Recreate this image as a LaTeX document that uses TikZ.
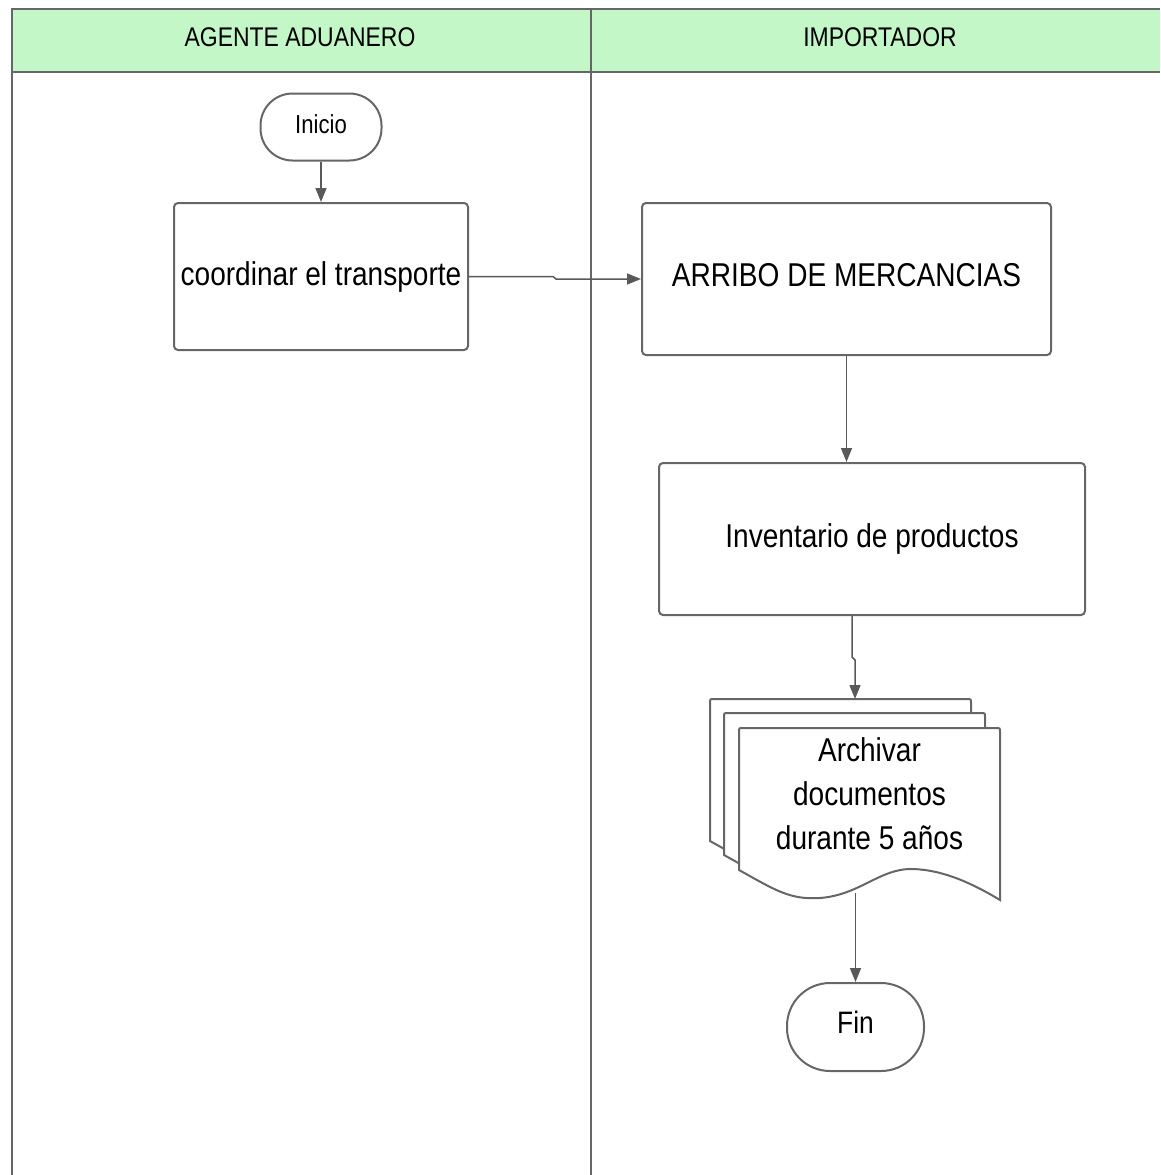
\documentclass[tikz,border=0pt]{standalone}
\usepackage{fontspec}
\setmainfont{Liberation Sans}[FakeStretch=0.85]
\usetikzlibrary{arrows.meta}
\definecolor{hdr}{HTML}{C4F7C7}
\definecolor{ln}{HTML}{666666}
\definecolor{ar}{HTML}{595959}
\tikzset{
  lane/.style={draw=ln, line width=2pt},
  proc/.style={draw=ln, line width=2pt, rounded corners=4pt, fill=white, inner sep=0pt, align=center, font=\fontsize{33}{40}\selectfont},
  term/.style={draw=ln, line width=2pt, fill=white, inner sep=0pt},
  hdrtext/.style={font=\fontsize{27}{32}\selectfont},
  flow/.style={draw=ar, line width=1.5pt, -{Triangle[length=14pt,width=11pt]}},
  docpic/.pic={
    \filldraw[draw=ln, line width=2pt, fill=white]
      (0,142) -- (0,4) .. controls (0,0) .. (4,0) -- (257,0) .. controls (261,0) .. (261,4)
      -- (261,172) .. controls (236,157) and (206,142) .. (174,141)
      .. controls (141,140) and (121,167) .. (81,170)
      .. controls (51,172) and (36,162) .. (0,142) -- cycle;
  }
}
\begin{document}
\begin{tikzpicture}[x=1pt,y=-1pt]
\useasboundingbox (0,0) rectangle (1160,1175);
% swimlanes
\fill[hdr] (12,9) rectangle (1160,72);
\draw[lane] (1160,9) -- (12,9) -- (12,1175);
\draw[lane] (12,72) -- (1160,72);
\draw[lane] (591,9) -- (591,1175);
\node[hdrtext] (h1) at (300,37) {AGENTE ADUANERO};
\node[hdrtext] (h2) at (880,37) {IMPORTADOR};
% nodes
\node[term, rounded corners=32pt, minimum width=121pt, minimum height=67pt, text height=19pt, text depth=7pt, font=\fontsize{26}{30}\selectfont] (inicio) at (321,127) {Inicio};
\node[proc, minimum width=294pt, minimum height=147pt] (coordinar) at (321,276.5) {coordinar el transporte};
\node[proc, minimum width=409pt, minimum height=152pt, text height=24pt, text depth=10pt] (arribo) at (846.5,279) {ARRIBO DE MERCANCIAS};
\node[proc, minimum width=426pt, minimum height=152pt] (inv) at (872,539) {Inventario de productos};
\pic at (710,699) {docpic};
\pic at (724,713) {docpic};
\pic at (739,728) {docpic};
\node[align=center, inner sep=0pt, font=\fontsize{33}{44}\selectfont] (doc) at (869.5,794) {Archivar\\documentos\\durante 5 años};
\node[term, rounded corners=43pt, minimum width=137pt, minimum height=88pt, text height=22pt, text depth=9pt, font=\fontsize{31}{36}\selectfont] (fin) at (855.5,1027) {Fin};
\coordinate (dtop) at (855,699);
\coordinate (dbot) at (855.5,893);
% connectors
\draw[flow] (inicio) -- (coordinar);
\draw[flow] (coordinar.east) -- (553,276.5) -- (556,279) -- (arribo.west);
\draw[flow] (arribo.south) -- (arribo.south |- inv.north);
\draw[flow] ([xshift=-20pt]inv.south) -- (852,657) -- (855,660) -- (dtop);
\draw[flow] (dbot) -- (fin.north);
\end{tikzpicture}
\end{document}
